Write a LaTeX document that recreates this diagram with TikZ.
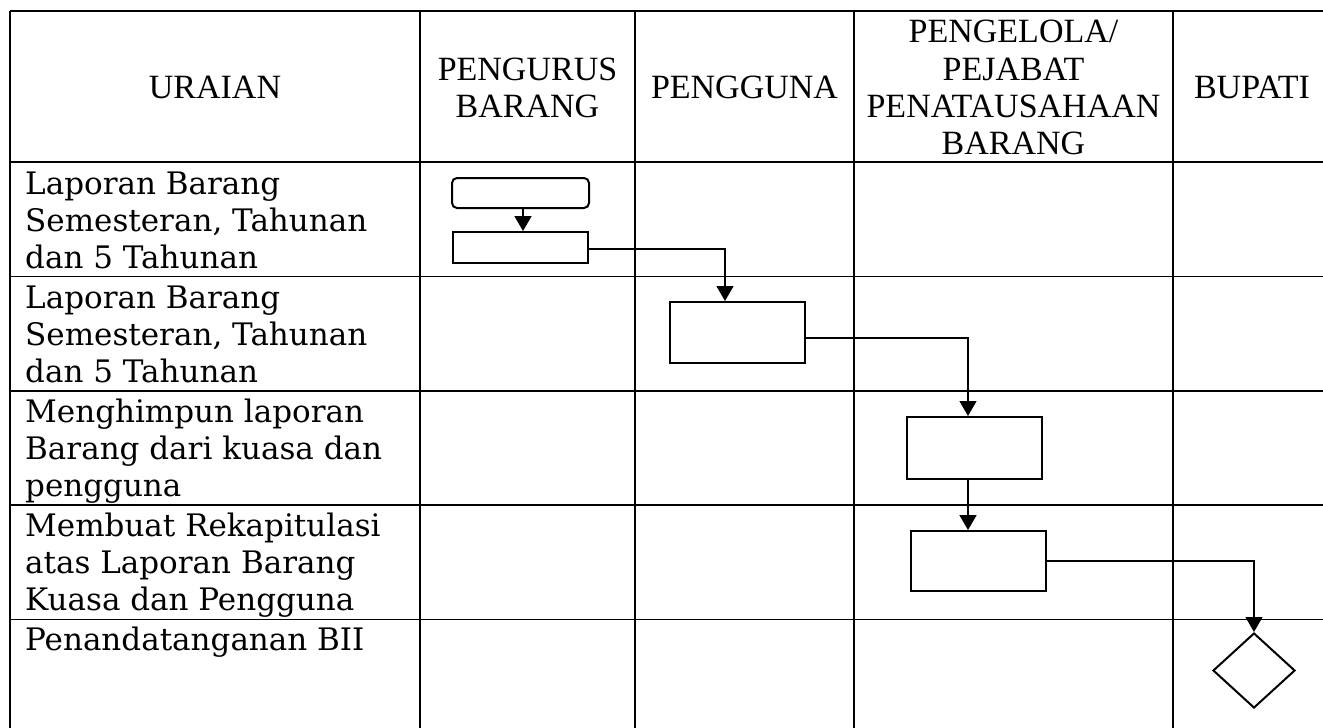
\documentclass[tikz,border=0pt]{standalone}
\usepackage{fontspec}
\setmainfont{Liberation Serif}
\newfontfamily\bodyfont{DejaVu Serif}
\usetikzlibrary{shapes.geometric,arrows.meta}
\tikzset{
  grid/.style={line width=1.7pt,black},
  hdr/.style={anchor=base,inner sep=0pt,font=\fontsize{34}{37}\selectfont},
  body/.style={anchor=base west,inner sep=0pt,font=\bodyfont\fontsize{31}{37}\selectfont},
  box/.style={draw,line width=2pt,inner sep=0pt,minimum width=135pt},
  arr/.style={line width=1.8pt,-{Triangle[width=17pt,length=15pt]}},
  conn/.style={line width=1.3pt,-{Triangle[width=17pt,length=15pt]}},
}
\begin{document}
\begin{tikzpicture}[x=1pt,y=-1pt]
\useasboundingbox (0,0) rectangle (1323,728);
% grid
\foreach \x in {10,420,635,854,1173} \draw[grid] (\x,11) -- (\x,728);
\foreach \y in {11,162,276.5,391,505.3,619.6} \draw[grid] (10,\y) -- (1323,\y);
% headers
\node[hdr] (h1) at (215,98) {URAIAN};
\node[hdr] (h2a) at (527.5,80) {PENGURUS};
\node[hdr] (h2b) at (527.5,117) {BARANG};
\node[hdr] (h3) at (744.5,98) {PENGGUNA};
\node[hdr] (h4a) at (1013.5,42) {PENGELOLA/};
\node[hdr] (h4b) at (1013.5,80) {PEJABAT};
\node[hdr] (h4c) at (1013.5,117) {PENATAUSAHAAN};
\node[hdr] (h4d) at (1013.5,154) {BARANG};
\node[hdr] (h5) at (1252,98) {BUPATI};
% body text
\node[body] (t1a) at (25,194) {Laporan Barang};
\node[body] (t1b) at (25,231) {Semesteran, Tahunan};
\node[body] (t1c) at (25,268) {dan 5 Tahunan};
\node[body] (t2a) at (25,308) {Laporan Barang};
\node[body] (t2b) at (25,345) {Semesteran, Tahunan};
\node[body] (t2c) at (25,382) {dan 5 Tahunan};
\node[body] (t3a) at (25,422) {Menghimpun laporan};
\node[body] (t3b) at (25,459) {Barang dari kuasa dan};
\node[body] (t3c) at (25,496) {pengguna};
\node[body] (t4a) at (25,536) {Membuat Rekapitulasi};
\node[body] (t4b) at (25,573) {atas Laporan Barang};
\node[body] (t4c) at (25,610) {Kuasa dan Pengguna};
\node[body] (t5a) at (25,650) {Penandatanganan BII};
% shapes
\node[box,rounded corners=5pt,minimum width=137pt,minimum height=30pt] (r1) at (520.5,193) {};
\node[box,minimum height=31pt] (r2) at (520.5,247.5) {};
\node[box,minimum height=61pt] (r3) at (737.5,332.5) {};
\node[box,minimum height=62pt] (r4) at (974.5,448) {};
\node[box,minimum height=60pt] (r5) at (978.5,561) {};
\node[draw,diamond,line width=2pt,inner sep=0pt,minimum width=82pt,minimum height=75pt] (d1) at (1254,670.5) {};
% connectors
\draw[arr] ([xshift=2.5pt]r1.south) -- ([xshift=2.5pt]r2.north);
\draw[conn] ([yshift=-1.5pt]r2.east) -| ([xshift=-12.5pt]r3.north);
\draw[conn] ([yshift=-5.5pt]r3.east) -| ([xshift=-6.5pt]r4.north);
\draw[arr] ([xshift=-6.5pt]r4.south) -- ([xshift=-10.5pt]r5.north);
\draw[conn] (r5.east) -| (d1.north);
\end{tikzpicture}
\end{document}
